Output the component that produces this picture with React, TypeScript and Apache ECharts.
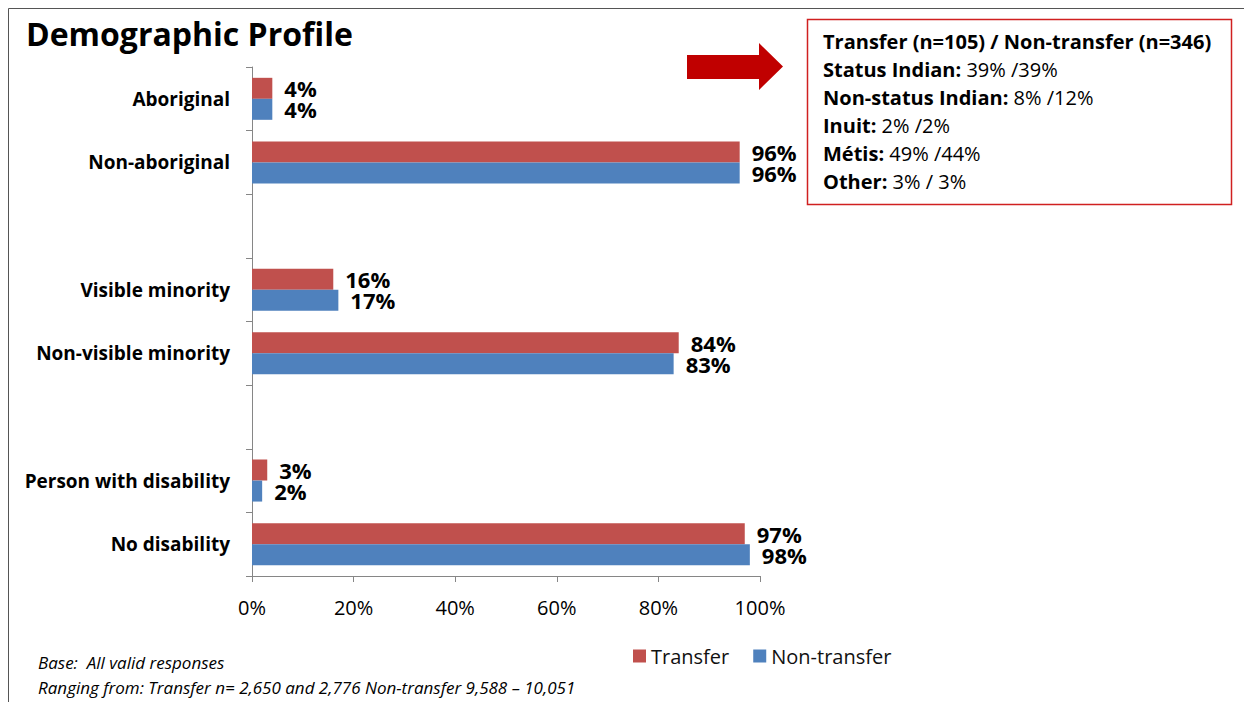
import React, { useEffect, useRef } from "react";
import * as echarts from "echarts";

const categories = ["Aboriginal", "Non-aboriginal", " ", "Visible minority", "Non-visible minority", "  ", "Person with disability", "No disability"];
const transfer = [4, 96, null, 16, 84, null, 3, 97];
const nonTransfer = [4, 96, null, 17, 83, null, 2, 98];
const xTicks = [0, 20, 40, 60, 80, 100];
const boxLines = [
  ["Transfer (n=105) / Non-transfer (n=346)", ""],
  ["Status Indian:", " 39% /39%"],
  ["Non-status Indian:", " 8% /12%"],
  ["Inuit:", " 2% /2%"],
  ["Métis:", " 49% /44%"],
  ["Other:", " 3% / 3%"],
];
const footnotes = ["Base:  All valid responses", "Ranging from: Transfer n= 2,650 and 2,776 Non-transfer 9,588 – 10,051"];

const FONT = "'Open Sans', 'Noto Sans', sans-serif";
const RED = "#C0504D";
const BLUE = "#4F81BD";

export default function App() {
  const ref = useRef<HTMLDivElement>(null);
  useEffect(() => {
    if (!ref.current) return;
    const chart = echarts.init(ref.current, null, { renderer: "svg" });
    const label = {
      show: true,
      position: "right",
      distance: 12,
      formatter: (p: any) => p.value + "%",
      fontFamily: FONT,
      fontWeight: "bold",
      fontSize: 22,
      lineHeight: 21,
      color: "#000",
    };
    const boxText = boxLines.map(([b, n]) => `{b|${b}}` + (n ? `{n|${n}}` : "")).join("\n");
    chart.setOption({
      animation: false,
      backgroundColor: "#fff",
      title: {
        text: "Demographic Profile",
        left: 21,
        top: 12,
        textStyle: { fontFamily: FONT, fontWeight: "bold", fontSize: 32, color: "#000" },
      },
      legend: {
        data: ["Transfer", "Non-transfer"],
        left: 628,
        top: 641,
        itemWidth: 13,
        itemHeight: 13,
        itemGap: 24,
        icon: "rect",
        textStyle: { fontFamily: FONT, fontSize: 20, color: "#111" },
      },
      grid: { left: 252, right: 484, top: 67, bottom: 126, containLabel: false },
      xAxis: {
        type: "value",
        min: 0,
        max: 100,
        interval: 20,
        axisLine: { show: true, lineStyle: { color: "#868686", width: 1 } },
        axisTick: { show: true, length: 6, lineStyle: { color: "#868686" } },
        splitLine: { show: false },
        axisLabel: {
          formatter: (v: number) => (xTicks.includes(v) ? v + "%" : ""),
          margin: 21,
          fontFamily: FONT,
          fontSize: 20,
          color: "#000",
        },
      },
      yAxis: {
        type: "category",
        data: categories,
        inverse: true,
        axisLine: { show: true, lineStyle: { color: "#868686", width: 1 } },
        axisTick: { show: true, length: 6, lineStyle: { color: "#868686" } },
        axisLabel: {
          margin: 22,
          fontFamily: FONT,
          fontWeight: "bold",
          fontSize: 19,
          color: "#000",
        },
      },
      series: [
        {
          name: "Transfer",
          type: "bar",
          data: transfer,
          barWidth: 21,
          barGap: "0%",
          itemStyle: { color: RED },
          label,
        },
        {
          name: "Non-transfer",
          type: "bar",
          data: nonTransfer,
          barWidth: 21,
          barGap: "0%",
          itemStyle: { color: BLUE },
          label,
        },
      ],
      graphic: [
        { type: "line", shape: { x1: 8.5, y1: 8.5, x2: 8.5, y2: 702 }, style: { stroke: "#555", lineWidth: 1 } },
        { type: "line", shape: { x1: 8.5, y1: 8.5, x2: 1244, y2: 8.5 }, style: { stroke: "#555", lineWidth: 1 } },
        {
          type: "polygon",
          shape: { points: [[687, 55], [759, 55], [759, 43], [783, 66.5], [759, 90], [759, 79], [687, 79]] },
          style: { fill: "#C00000" },
        },
        {
          type: "rect",
          shape: { x: 807.5, y: 19.5, width: 424, height: 185 },
          style: { fill: "#fff", stroke: "#D02020", lineWidth: 1.5 },
        },
        {
          type: "text",
          x: 823,
          y: 27,
          style: {
            text: boxText,
            fontFamily: FONT,
            fontSize: 20,
            lineHeight: 28,
            fill: "#000",
            rich: {
              b: { fontFamily: FONT, fontWeight: "bold", fontSize: 20, lineHeight: 28, fill: "#000" },
              n: { fontFamily: FONT, fontWeight: "normal", fontSize: 20, lineHeight: 28, fill: "#000" },
            },
          },
        },
        {
          type: "text",
          x: 38,
          y: 650,
          style: {
            text: footnotes.join("\n"),
            fontFamily: FONT,
            fontStyle: "italic",
            fontSize: 17,
            lineHeight: 25,
            fill: "#000",
          },
        },
      ],
    });
    return () => chart.dispose();
  }, []);
  return <div ref={ref} style={{ position: "fixed", left: 0, top: 0, width: 1244, height: 702 }} />;
}
